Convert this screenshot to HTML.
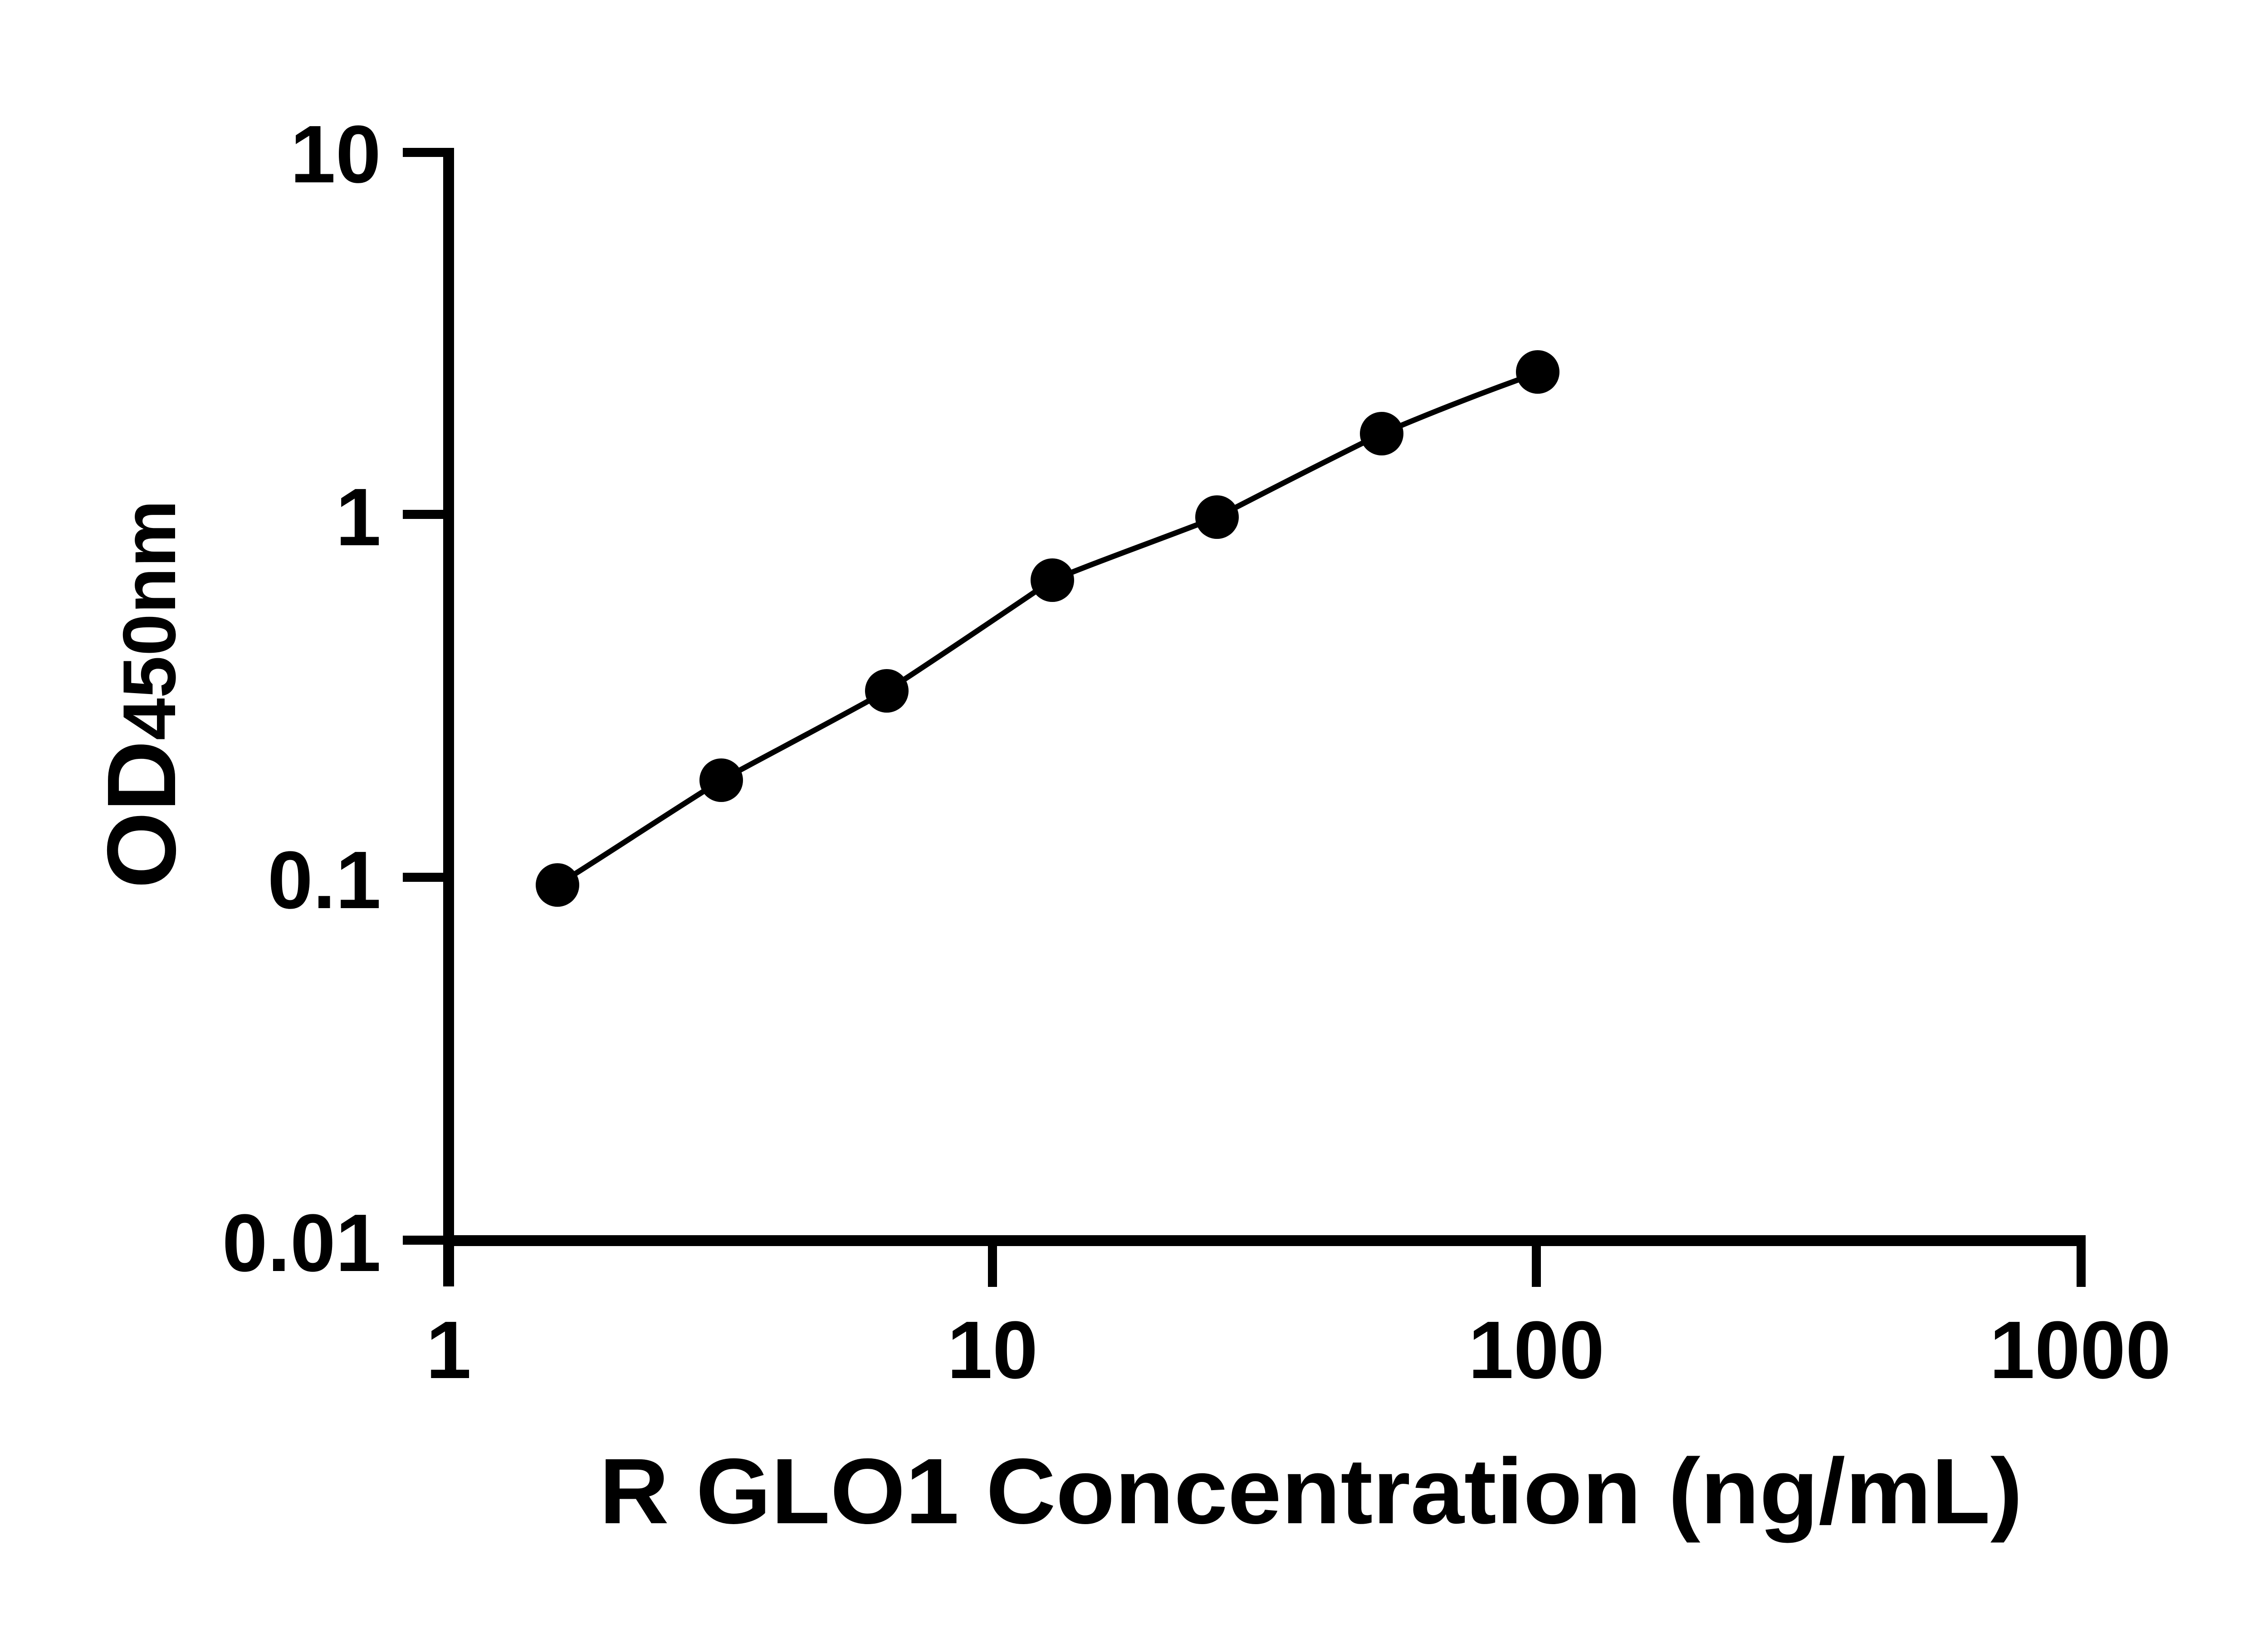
<!DOCTYPE html>
<html><head><meta charset="utf-8"><style>html,body{margin:0;padding:0;background:#fff}svg{display:block}</style></head>
<body>
<svg width="5142" height="3600" viewBox="0 0 5142 3600" xmlns="http://www.w3.org/2000/svg">
<rect width="5142" height="3600" fill="#fff"/>
<g stroke="#000" fill="none">
<line x1="989" y1="326" x2="989" y2="2836" stroke-width="24"/>
<line x1="977" y1="2735" x2="4598" y2="2735" stroke-width="24"/>
<g stroke-width="20">
<line x1="888" y1="336" x2="989" y2="336"/>
<line x1="888" y1="1134" x2="989" y2="1134"/>
<line x1="888" y1="1934" x2="989" y2="1934"/>
<line x1="888" y1="2734" x2="989" y2="2734"/>
<line x1="2188" y1="2735" x2="2188" y2="2837"/>
<line x1="3387" y1="2735" x2="3387" y2="2837"/>
<line x1="4588" y1="2735" x2="4588" y2="2837"/>
</g>
<path stroke-width="12" d="M1229,1951 C1350,1875 1470,1795 1590,1720 C1710,1655 1835,1590 1955,1523 C2075,1445 2200,1360 2320,1279 C2440,1230 2563,1187 2683,1140 C2803,1078 2926,1015 3046,956 C3166,905 3288,858 3390,822"/>
</g>
<g fill="#000">
<circle cx="1229" cy="1951" r="48"/>
<circle cx="1590" cy="1720" r="48"/>
<circle cx="1955" cy="1523" r="48"/>
<circle cx="2320" cy="1279" r="48"/>
<circle cx="2683" cy="1140" r="48"/>
<circle cx="3046" cy="956" r="48"/>
<circle cx="3390" cy="820" r="48"/>
</g>
<g font-family="Liberation Sans, sans-serif" font-weight="bold" font-size="180" fill="#000" text-anchor="end">
<text x="840" y="402">10</text>
<text x="840" y="1202">1</text>
<text x="840" y="2002">0.1</text>
<text x="840" y="2802">0.01</text>
</g>
<g font-family="Liberation Sans, sans-serif" font-weight="bold" font-size="180" fill="#000" text-anchor="middle">
<text x="989" y="3038">1</text>
<text x="2188" y="3038">10</text>
<text x="3387" y="3038">100</text>
<text x="4586" y="3038">1000</text>
</g>
<text x="1321" y="3358" font-family="Liberation Sans, sans-serif" font-weight="bold" font-size="205" fill="#000" textLength="3138" lengthAdjust="spacingAndGlyphs">R GLO1 Concentration (ng/mL)</text>
<text transform="translate(386,1959) rotate(-90)" font-family="Liberation Sans, sans-serif" font-weight="bold" fill="#000" textLength="857" lengthAdjust="spacingAndGlyphs"><tspan font-size="215">OD</tspan><tspan font-size="165">450nm</tspan></text>
</svg>
</body></html>
